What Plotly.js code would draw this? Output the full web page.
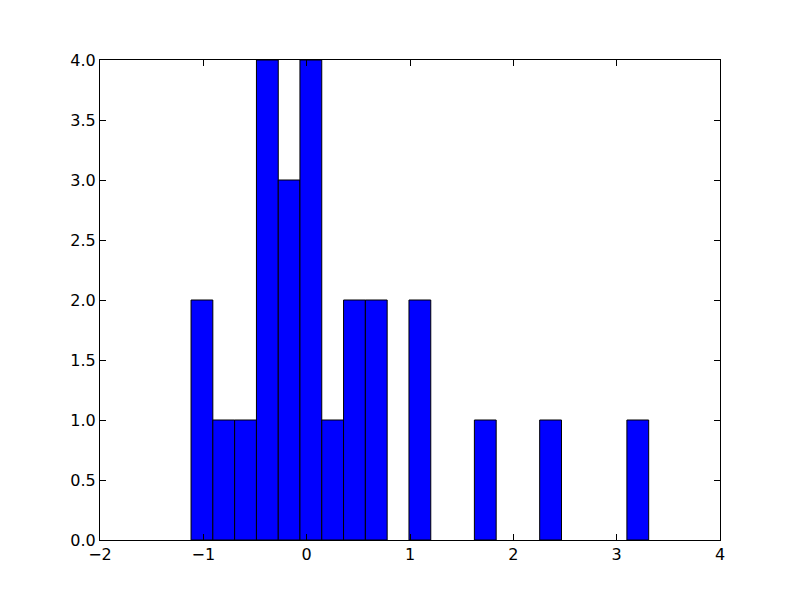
<!DOCTYPE html>
<html>
<head>
<meta charset="utf-8">
<script src="https://cdn.plot.ly/plotly-3.0.1.min.js"></script>
<style>html,body{margin:0;padding:0;background:#fff;}#chart{width:800px;height:600px;}</style>
</head>
<body>
<div id="chart"></div>
<script>
// Histogram bin edges (21 bins)
const binEdges = [-1.119, -0.908, -0.697, -0.486, -0.275, -0.065, 0.146, 0.357, 0.568, 0.779,
  0.990, 1.201, 1.412, 1.623, 1.834, 2.044, 2.255, 2.466, 2.677, 2.888, 3.099, 3.310];
// Counts per bin
const counts = [2, 1, 1, 4, 3, 4, 1, 2, 2, 0, 2, 0, 0, 1, 0, 0, 1, 0, 0, 0, 1];
const xTickVals = [-2, -1, 0, 1, 2, 3, 4];
const yTickVals = [0, 0.5, 1, 1.5, 2, 2.5, 3, 3.5, 4];

const centers = counts.map((c, i) => (binEdges[i] + binEdges[i + 1]) / 2);
const widths = counts.map((c, i) => binEdges[i + 1] - binEdges[i]);
// empty bins draw nothing (no outline along the baseline)
const shownCounts = counts.map(c => (c === 0 ? null : c));

const trace = {
  type: 'bar',
  x: centers,
  y: shownCounts,
  width: widths,
  marker: {color: '#0000ff', line: {color: '#000000', width: 1}},
  hoverinfo: 'skip'
};

const axisCommon = {
  showline: true, linecolor: '#000', linewidth: 1, mirror: 'allticks',
  ticks: 'inside', ticklen: 6, tickwidth: 1, tickcolor: '#000',
  showgrid: false, zeroline: false,
  tickfont: {family: 'DejaVu Sans', size: 16, color: '#000'}
};

const layout = {
  width: 800, height: 600,
  margin: {l: 100, r: 80, t: 60, b: 60},
  paper_bgcolor: '#fff', plot_bgcolor: '#fff',
  showlegend: false,
  bargap: 0,
  xaxis: Object.assign({}, axisCommon, {range: [-2, 4], tickvals: xTickVals, tickmode: 'array'}),
  yaxis: Object.assign({}, axisCommon, {range: [0, 4], tickvals: yTickVals, tickmode: 'array', tickformat: '.1f'})
};

Plotly.newPlot('chart', [trace], layout, {staticPlot: true, displayModeBar: false});
</script>
</body>
</html>
